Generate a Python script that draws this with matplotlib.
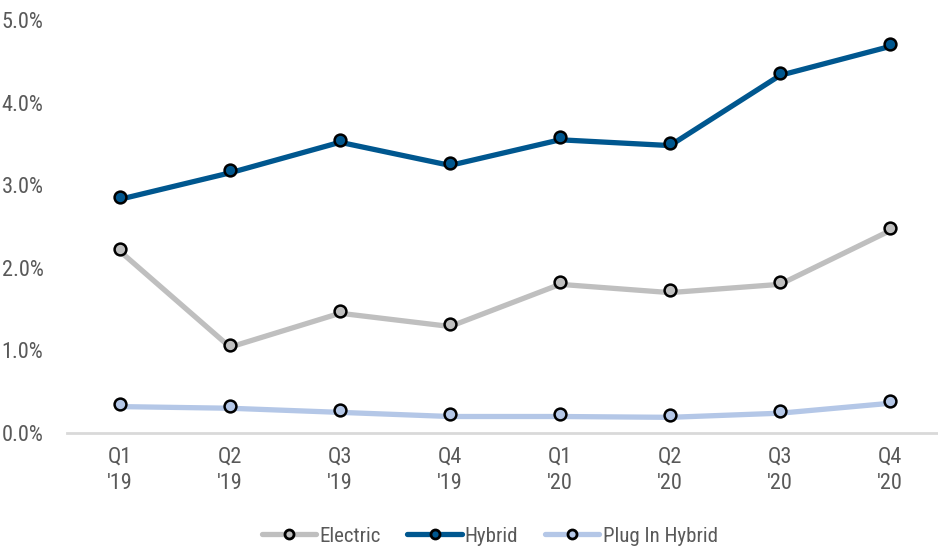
import matplotlib.pyplot as plt
import matplotlib.transforms as mtransforms
from matplotlib import font_manager
from matplotlib.ticker import FuncFormatter

quarters = ["Q1\n'19", "Q2\n'19", "Q3\n'19", "Q4\n'19",
            "Q1\n'20", "Q2\n'20", "Q3\n'20", "Q4\n'20"]
electric = [2.23, 1.07, 1.48, 1.32, 1.83, 1.73, 1.83, 2.48]
hybrid = [2.86, 3.18, 3.55, 3.27, 3.58, 3.51, 4.36, 4.71]
plug_in = [0.35, 0.33, 0.28, 0.23, 0.23, 0.22, 0.27, 0.39]

series = [("Electric", electric, "#BFBFBF"),
          ("Hybrid", hybrid, "#00578F"),
          ("Plug In Hybrid", plug_in, "#B4C7E7")]

# pick a narrow face if one is there
have = {f.name for f in font_manager.fontManager.ttflist}
fam = 'Liberation Sans'
for cand in ['Liberation Sans Narrow', 'Roboto Condensed', 'Open Sans Condensed',
             'Noto Sans Condensed', 'DejaVu Sans Condensed']:
    if cand in have:
        fam = cand
        break
plt.rcParams['font.family'] = [fam, 'DejaVu Sans']
text_col = "#595959"
fs = 16

fig = plt.figure(figsize=(9.38, 5.46), dpi=100)
ax = fig.add_axes([67/938, 1-433/546, (938-67)/938, (433-20)/546])

x = list(range(len(quarters)))
# Excel draws the line a hair below the marker centres
line_shift = mtransforms.ScaledTranslation(0, -2.5/100, fig.dpi_scale_trans)
for name, vals, col in series:
    ax.plot(x, vals, color=col, lw=3.8, solid_capstyle='butt',
            transform=ax.transData + line_shift, zorder=2)
    ax.plot(x, vals, ls='none', marker='o', ms=8.5, mfc=col, mec='black',
            mew=1.8, zorder=3)

# legend proxies
handles = []
for name, vals, col in series:
    h, = ax.plot([], [], color=col, lw=3.8, marker='o', ms=6.5, mfc=col,
                 mec='black', mew=2.0, solid_capstyle='round')
    handles.append(h)
fig.legend(handles, [s[0] for s in series], loc='center',
           bbox_to_anchor=(0.522, 1-536/546), ncol=3, frameon=False,
           fontsize=15, handlelength=2.6, columnspacing=1.3,
           handletextpad=0.15, labelcolor=text_col)

ax.set_xlim(-0.482, 7.436)
ax.set_ylim(0, 5.0)
ax.set_yticks([0, 1, 2, 3, 4, 5])
ax.yaxis.set_major_formatter(FuncFormatter(lambda v, p: f"{v:.1f}%"))
ax.set_xticks(x)
ax.set_xticklabels(quarters, linespacing=1.3)
ax.tick_params(axis='both', length=0, labelsize=fs, labelcolor=text_col)
ax.tick_params(axis='y', pad=17)
ax.tick_params(axis='x', pad=10)

for s in ['top', 'right', 'left']:
    ax.spines[s].set_visible(False)
ax.spines['bottom'].set_color('#D9D9D9')
ax.spines['bottom'].set_linewidth(2)
ax.patch.set_alpha(0)

fig.savefig('out.png', dpi=100)
